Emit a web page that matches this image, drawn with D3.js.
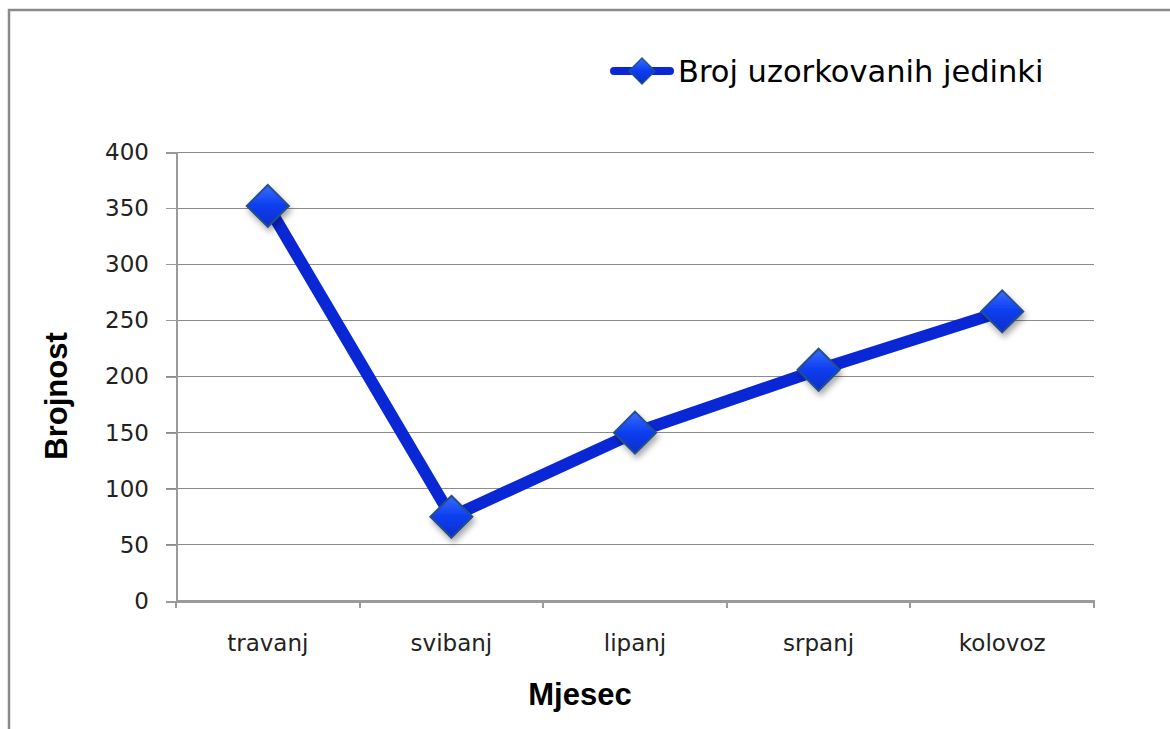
<!DOCTYPE html>
<meta charset="utf-8">
<style>
body { margin: 0; background: #fff; }
svg { display: block; }
.tick text { font-family: "DejaVu Sans", Verdana, sans-serif; font-size: 23px; fill: #222; }
.axis path, .axis line { stroke: #9a9a9a; shape-rendering: crispEdges; }
.grid line { stroke: #8c8c8c; shape-rendering: crispEdges; }
.title { font-family: "Liberation Sans", Arial, sans-serif; font-weight: bold; font-size: 31px; fill: #000; }
.legend text { font-family: "DejaVu Sans", Verdana, sans-serif; font-size: 30.5px; fill: #000; }
</style>
<svg width="1170" height="729"></svg>
<script src="https://cdn.jsdelivr.net/npm/d3@7"></script>
<script>

var months = ["travanj", "svibanj", "lipanj", "srpanj", "kolovoz"];
var counts = [352, 75, 150, 206, 258];
var yTicks = [0, 50, 100, 150, 200, 250, 300, 350, 400];
var seriesName = "Broj uzorkovanih jedinki";

var svg = d3.select("svg"),
    margin = {top: 152, right: 76, bottom: 128, left: 176},
    width = +svg.attr("width") - margin.left - margin.right,
    height = +svg.attr("height") - margin.top - margin.bottom;

// outer chart frame
svg.append("rect")
    .attr("x", 9).attr("y", 10)
    .attr("width", 1200).attr("height", 800)
    .attr("fill", "none")
    .attr("stroke", "#8a8a8a")
    .attr("stroke-width", 2.5);

var defs = svg.append("defs");
var grad = defs.append("linearGradient")
    .attr("id", "mk").attr("x1", 0).attr("y1", 0).attr("x2", 0).attr("y2", 1);
grad.append("stop").attr("offset", "0%").attr("stop-color", "#3a6cff");
grad.append("stop").attr("offset", "50%").attr("stop-color", "#0b3df0");
grad.append("stop").attr("offset", "100%").attr("stop-color", "#0a2fc8");
var sh = defs.append("filter").attr("id", "shadow")
    .attr("x", "-50%").attr("y", "-50%").attr("width", "200%").attr("height", "200%");
sh.append("feDropShadow").attr("dx", 2).attr("dy", 4).attr("stdDeviation", 3)
    .attr("flood-color", "#000").attr("flood-opacity", 0.35);

var g = svg.append("g")
    .attr("transform", "translate(" + margin.left + "," + margin.top + ")");

var x = d3.scaleBand().domain(months).range([0, width]);
var y = d3.scaleLinear().domain([0, 400]).range([height, 0]);

// gridlines
g.append("g")
    .attr("class", "grid")
    .selectAll("line")
    .data(yTicks.slice(1))
    .enter().append("line")
      .attr("x1", -10).attr("x2", width)
      .attr("y1", function(d) { return y(d); })
      .attr("y2", function(d) { return y(d); });

var yAxis = g.append("g")
    .attr("class", "axis")
    .call(d3.axisLeft(y).tickValues(yTicks).tickSize(10).tickPadding(17));
yAxis.select(".domain").attr("stroke-width", 2);

var xAxis = g.append("g")
    .attr("class", "axis")
    .attr("transform", "translate(0," + height + ")")
    .call(d3.axisBottom(x).tickSize(0).tickPadding(34));
xAxis.select(".domain").attr("stroke-width", 2.5);
// category boundary ticks
xAxis.selectAll(".bound")
    .data(d3.range(months.length + 1))
    .enter().append("line")
      .attr("class", "bound")
      .attr("x1", function(i) { return i * x.step(); })
      .attr("x2", function(i) { return i * x.step(); })
      .attr("y1", 0).attr("y2", 7)
      .attr("stroke-width", 2);

var cx = function(d, i) { return x(months[i]) + x.bandwidth() / 2; };

var line = d3.line()
    .x(function(d, i) { return cx(d, i); })
    .y(function(d) { return y(d); });

g.append("path")
    .datum(counts)
    .attr("fill", "none")
    .attr("stroke", "#0a27d6")
    .attr("stroke-width", 12)
    .attr("stroke-linejoin", "miter")
    .attr("d", line);

var diamond = "M0,-21L21,0L0,21L-21,0Z";

g.selectAll(".marker")
    .data(counts)
    .enter().append("path")
      .attr("class", "marker")
      .attr("transform", function(d, i) { return "translate(" + cx(d, i) + "," + y(d) + ")"; })
      .attr("d", diamond)
      .attr("fill", "url(#mk)")
      .attr("stroke", "#24508a")
      .attr("stroke-width", 2)
      .attr("filter", "url(#shadow)");

// axis titles
svg.append("text")
    .attr("class", "title")
    .attr("transform", "translate(67,396) rotate(-90)")
    .attr("text-anchor", "middle")
    .text("Brojnost");

svg.append("text")
    .attr("class", "title")
    .attr("x", 580).attr("y", 705)
    .attr("text-anchor", "middle")
    .text("Mjesec");

// legend
var lg = svg.append("g").attr("class", "legend").attr("transform", "translate(612,71)");
lg.append("line")
    .attr("x1", 2).attr("x2", 58).attr("y1", 0).attr("y2", 0)
    .attr("stroke", "#0a27d6").attr("stroke-width", 8).attr("stroke-linecap", "round");
lg.append("path")
    .attr("transform", "translate(30,0) scale(0.62)")
    .attr("d", diamond)
    .attr("fill", "url(#mk)")
    .attr("stroke", "#24508a")
    .attr("stroke-width", 2);
lg.append("text")
    .attr("x", 66).attr("y", 11)
    .text(seriesName);

</script>
